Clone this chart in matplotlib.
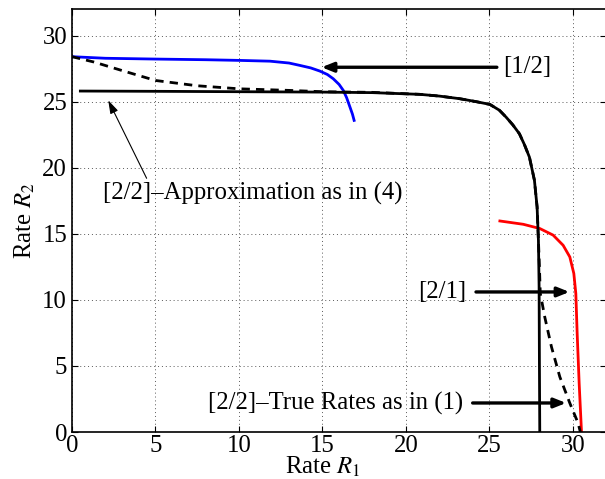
import matplotlib
matplotlib.use("Agg")
import matplotlib.pyplot as plt

# [1/2] region boundary (blue)
r1_blue = [0, 2, 5, 8, 10, 11.86, 13, 13.65, 14.3, 14.85, 15.3, 15.65, 16.0,
           16.25, 16.45, 16.65, 16.8, 16.9]
r2_blue = [28.4, 28.28, 28.22, 28.17, 28.12, 28.06, 27.92, 27.74, 27.55, 27.31,
           27.05, 26.73, 26.3, 25.85, 25.3, 24.59, 24.05, 23.58]

# [2/1] region boundary (red)
r1_red = [25.63, 27.03, 28.02, 28.82, 29.42, 29.82, 30.06, 30.18, 30.26, 30.38, 30.52]
r2_red = [15.97, 15.72, 15.4, 14.9, 14.13, 13.25, 12.0, 10.48, 7.47, 3.68, 0.0]

# [2/2] true rates (solid black)
r1_true = [0.5, 5, 10, 15, 18, 20.84, 22, 23.23, 24.2, 25.03, 25.6, 26.0, 26.4,
           26.8, 27.1, 27.4, 27.7, 27.86, 27.94, 27.98, 28.0, 28.02]
r2_true = [25.8, 25.78, 25.75, 25.72, 25.68, 25.55, 25.42, 25.22, 25.0, 24.79,
           24.35, 23.83, 23.25, 22.57, 21.75, 20.8, 19.05, 17.03, 14.5, 11.0, 5.0, 0.0]

# [2/2] approximation (dashed black)
r1_appr = [0, 1.3, 3, 5, 7.5, 10, 13, 15, 18, 20.84, 22, 23.23, 24.2, 25.03, 25.6,
           26.0, 26.4, 26.8, 27.1, 27.4, 27.7, 27.86, 27.94, 28.0, 28.05, 28.32,
           28.72, 29.22, 29.82, 30.32, 30.45]
r2_appr = [28.4, 28.0, 27.35, 26.6, 26.2, 25.97, 25.85, 25.75, 25.7, 25.55, 25.42,
           25.22, 25.0, 24.79, 24.35, 23.83, 23.25, 22.57, 21.75, 20.8, 19.05, 17.03,
           14.5, 12.5, 10.5, 8.7, 6.45, 4.18, 2.19, 0.66, 0.0]

ticks = [0, 5, 10, 15, 20, 25, 30]

plt.rcParams["font.family"] = ["Liberation Serif", "DejaVu Serif"]
plt.rcParams["mathtext.fontset"] = "stix"
fs = 17.8

fig = plt.figure(figsize=(6.05, 4.79), dpi=100)
ax = fig.add_axes([0.119, 0.098, 0.883, 0.883])

ax.plot(r1_blue, r2_blue, color="blue", lw=2)
ax.plot(r1_red, r2_red, color="red", lw=2)
ax.plot(r1_true, r2_true, color="black", lw=2)
ax.plot(r1_appr, r2_appr, color="black", lw=2, dashes=(3, 2.2))

ax.set_xlim(0, 32)
ax.set_ylim(0, 32)
ax.set_xticks(ticks)
ax.set_yticks(ticks)
ax.tick_params(direction="in", top=True, right=True, labelsize=fs, length=4)
ax.tick_params(axis="x", pad=2)
ax.grid(True, color="0.35", linestyle=(0, (1, 3)), lw=0.7)
for s in ax.spines.values():
    s.set_linewidth(1.2)

ax.set_xlabel("Rate $R_1$", fontsize=fs, va="baseline")
ax.set_ylabel("Rate $R_2$", fontsize=fs, va="center")
ax.xaxis.set_label_coords(15 / 32, -0.0993)
ax.yaxis.set_label_coords(-0.088, 0.5)

thick = dict(arrowstyle="-|>,head_length=0.7,head_width=0.28", color="black", lw=2.4,
             shrinkA=0, shrinkB=0)
ax.annotate("", xy=(14.95, 27.6), xytext=(25.45, 27.6), arrowprops=thick)
ax.text(25.8, 27.6, "[1/2]", fontsize=fs, va="center", ha="left")

ax.annotate("", xy=(29.8, 10.6), xytext=(24.2, 10.6), arrowprops=thick)
ax.text(23.6, 10.6, "[2/1]", fontsize=fs, va="center", ha="right")

ax.annotate("", xy=(29.6, 2.2), xytext=(24.0, 2.2), arrowprops=thick)
ax.text(23.4, 2.2, "[2/2]–True Rates as in (1)", fontsize=fs, va="center", ha="right")

thin = dict(arrowstyle="-|>,head_length=0.8,head_width=0.25", color="black", lw=0.8,
            shrinkA=0, shrinkB=0)
ax.annotate("", xy=(2.17, 25.1), xytext=(4.47, 19.2), arrowprops=thin)
ax.text(1.86, 18.06, "[2/2]–Approximation as in (4)", fontsize=fs, va="center", ha="left")

fig.savefig("out.png", dpi=100)
